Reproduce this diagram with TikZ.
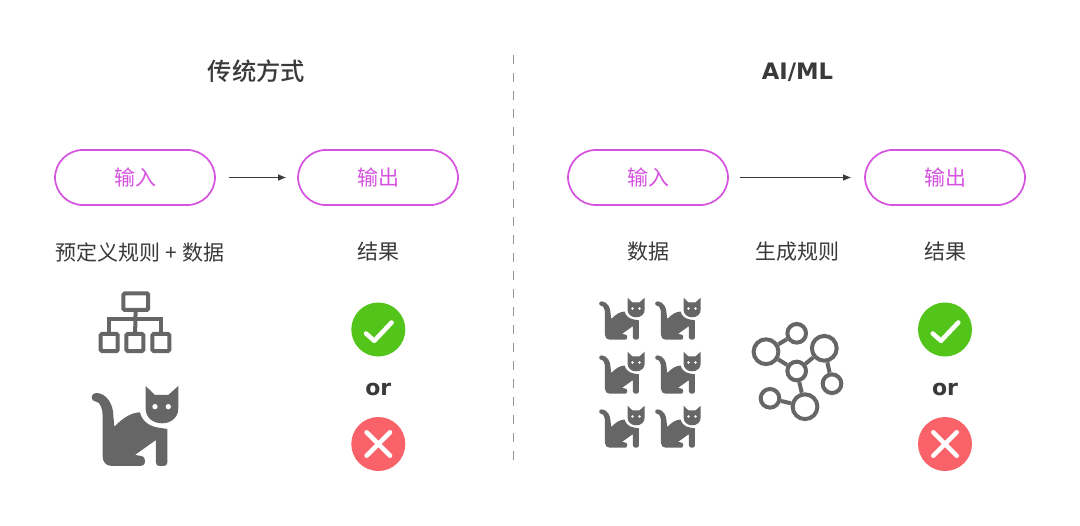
\documentclass[tikz,border=0pt]{standalone}
\usepackage{fontspec}
\setmainfont{DejaVu Sans}
\newfontfamily\cjk{Noto Sans CJK SC}
\newfontfamily\cjkmid{Noto Sans CJK SC Medium}
\usetikzlibrary{arrows.meta}

\definecolor{pillcol}{HTML}{D653DF}
\definecolor{inkcol}{HTML}{3A3A3A}
\definecolor{iconcol}{HTML}{666666}
\definecolor{goodcol}{HTML}{52C41A}
\definecolor{badcol}{HTML}{F96268}

\tikzset{
	pill/.style={draw=pillcol,line width=1.3pt,rounded corners=21pt,minimum width=120pt,minimum height=41.3pt,inner sep=0pt,text=pillcol,font=\cjk\fontsize{15.75}{18}\selectfont},
	title/.style={text=inkcol,font=\cjkmid\fontsize{18.2}{22}\selectfont},
	latin title/.style={text=inkcol,font=\bfseries\fontsize{17}{22}\selectfont},
	or label/.style={text=inkcol,font=\bfseries\fontsize{16.5}{20}\selectfont},
	label/.style={text=inkcol,font=\cjk\fontsize{15.75}{18}\selectfont},
	flow/.style={draw=inkcol,line width=0.7pt,-{Latex[length=6pt,width=5pt]}},
	orgbox/.style={draw=iconcol,line width=3pt,rounded corners=1pt,inner sep=0pt},
	netbig/.style={draw=iconcol,line width=3pt,circle,inner sep=0pt,minimum size=18.6pt},
	netsmall/.style={draw=iconcol,line width=3pt,circle,inner sep=0pt,minimum size=14pt},
	catsym/.pic={
		\fill[iconcol] (13,21) .. controls (45,21) and (65,55) .. (65,90) -- (68,122)
			.. controls (90,100) and (115,80) .. (145,79)
			.. controls (150,105) and (175,122) .. (200,125) -- (227,129) -- (227,230)
			.. controls (227,237) and (222,240) .. (217,240) -- (203,240)
			.. controls (197,240) and (193,237) .. (193,230) -- (193,162) -- (130,207) -- (148,210)
			.. controls (158,212) and (160,218) .. (160,225)
			.. controls (160,235) and (155,240) .. (148,240) -- (60,240)
			.. controls (43,240) and (33,228) .. (33,212) -- (33,90)
			.. controls (33,68) and (25,47) .. (13,47)
			.. controls (4,47) and (0,40) .. (0,34)
			.. controls (0,27) and (5,21) .. (13,21) -- cycle;
		\fill[iconcol] (162,0) -- (190,27) -- (230,27) -- (260,0) -- (260,67)
			.. controls (260,95) and (238,112) .. (211,112)
			.. controls (184,112) and (162,95) .. (162,67) -- cycle;
		\fill[white] (190,62) circle (8);
		\fill[white] (230,62) circle (8);
	},
	goodsym/.pic={
		\fill[goodcol] (0,0) circle (27);
		\draw[white,line width=3.4pt,line cap=round,line join=round] (-12.3,4) -- (-4,11.3) -- (13.3,-7);
	},
	badsym/.pic={
		\fill[badcol] (0,0) circle (27);
		\draw[white,line width=3.4pt,line cap=round] (-11.7,-11.7) -- (11.7,11.7);
		\draw[white,line width=3.4pt,line cap=round] (-11.7,11.7) -- (11.7,-11.7);
	},
}

\begin{document}
\begin{tikzpicture}[x=0.75pt,y=-0.75pt]
\useasboundingbox[fill=white] (0,0) rectangle (1080,525);

% divider
\coordinate (divtop) at (513.5,55);
\coordinate (divbot) at (513.5,460);
\draw[draw=iconcol!70,line width=0.6pt,dash pattern=on 7pt off 6.5pt] (divtop) -- (divbot);

\node[title] (lefttitle) at (256.5,71) {传统方式};
\node[latin title] (righttitle) at (797.5,72.5) {AI/ML};

% left side
\node[pill] (inleft) at (135,177.5) {输入};
\node[pill] (outleft) at (378,177.5) {输出};
\draw[flow,shorten <=9.7pt,shorten >=8.2pt] (inleft) -- (outleft);

\node[label] (ruledata) at (140,252) {预定义规则\kern0.7pt{} + \kern0.7pt{}数据};
\node[label] (resleft) at (378,252) {结果};

% rule chart
\node[orgbox,minimum width=18.6pt,minimum height=12.4pt] (orgtop) at (135.8,301.7) {};
\node[orgbox,minimum width=12.8pt,minimum height=12.8pt] (orga) at (109.2,342.5) {};
\node[orgbox,minimum width=12.8pt,minimum height=12.8pt] (orgb) at (134.9,342.5) {};
\node[orgbox,minimum width=12.8pt,minimum height=12.8pt] (orgc) at (160.9,342.5) {};
\draw[draw=iconcol,line width=3pt] (orgtop) -- (orgb);
\draw[draw=iconcol,line width=3pt] (orga.north) -- ++(0,-13) -| (orgc.north);

\pic[scale=0.333] at (91.7,386) {catsym};

\pic at (378.3,329.5) {goodsym};
\node[or label] (orleft) at (378.3,389.5) {or};
\pic at (378.3,444) {badsym};

% right side
\node[pill] (inright) at (648,177.5) {输入};
\node[pill] (outright) at (945,177.5) {输出};
\draw[flow,shorten <=8.2pt,shorten >=9.7pt] (inright) -- (outright);

\node[label] (dataright) at (648,252) {数据};
\node[label] (genrule) at (797.5,252) {生成规则};
\node[label] (resright) at (945,252) {结果};

\foreach \x in {599.2,655.2}{
	\foreach \y in {297.7,351.7,405.7}{
		\pic[scale=0.175] at (\x,\y) {catsym};}}

% rule network
\node[netbig] (neta) at (766,351.7) {};
\node[netsmall] (netb) at (796.7,333.3) {};
\node[netbig] (netc) at (824.3,348.3) {};
\node[netsmall] (netd) at (796.7,371) {};
\node[netsmall] (nete) at (832,383.7) {};
\node[netbig] (netf) at (805,406.7) {};
\node[netsmall] (netg) at (770,398.3) {};
\foreach \a/\b in {neta/netb,neta/netd,netc/netd,netc/nete,netd/netf,netg/netf}{
	\draw[draw=iconcol,line width=3pt] (\a) -- (\b);}

\pic at (945,329.5) {goodsym};
\node[or label] (orright) at (945,389.5) {or};
\pic at (945,444) {badsym};
\end{tikzpicture}
\end{document}
